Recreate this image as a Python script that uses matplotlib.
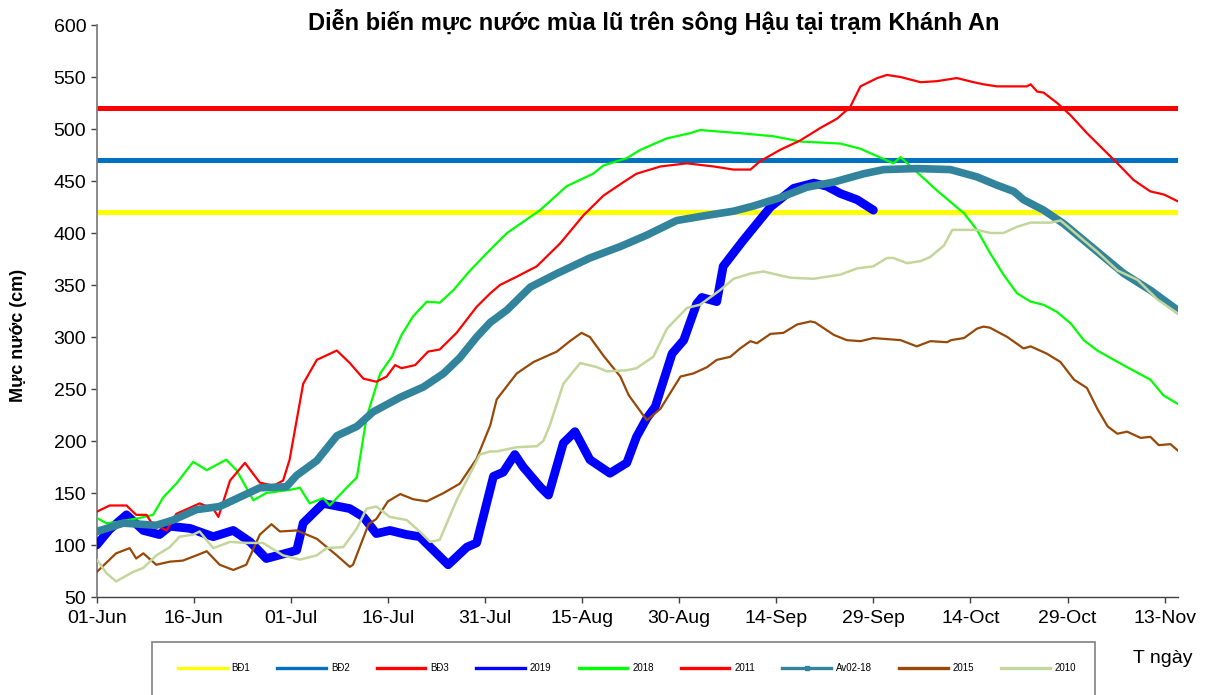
import matplotlib
matplotlib.use("Agg")
import matplotlib.pyplot as plt
from matplotlib.lines import Line2D
from matplotlib.patches import Rectangle

plt.rcParams['font.family'] = ['Liberation Sans', 'DejaVu Sans']

# ---------------- data ----------------
tick_days = [0, 15, 30, 45, 60, 75, 90, 105, 120, 135, 150, 165]
tick_labels = ["01-Jun", "16-Jun", "01-Jul", "16-Jul", "31-Jul", "15-Aug",
               "30-Aug", "14-Sep", "29-Sep", "14-Oct", "29-Oct", "13-Nov"]

bd_names = ["BĐ1", "BĐ2", "BĐ3"]
bd_levels = [420, 470, 520]

d2019 = [0, 2, 4.6, 7.2, 9.7, 11.3, 14.4, 18, 21.1, 23.7, 26.2, 29.8, 30.9, 31.9, 35,
         39.1, 41.2, 43.2, 45.3, 47.9, 49.9, 54.3, 57.2, 58.7, 61.3, 62.8, 64.6, 65.9,
         68.5, 69.8, 72.1, 73.9, 76.2, 79.3, 81.9, 83.4, 85, 86.3, 88.9, 90.7, 92.7,
         93.5, 95.8, 96.8, 99.9, 104.1, 107.7, 110.8, 112.8, 114.9, 117.5, 120]
v2019 = [100, 115, 129, 114, 110, 118, 116, 108, 114, 103, 87, 93, 95, 121, 140,
         135, 127, 111, 114, 110, 108, 81, 98, 102, 166, 170, 187, 175,
         156, 148, 198, 209, 182, 169, 179, 204, 222, 233, 284, 297, 332,
         338, 334, 368, 393, 425, 443, 448, 445, 438, 432, 422]

d2018 = [0, 1.5, 3, 6.6, 8.7, 10.3, 12.3, 14.9, 17, 20, 21.6, 24.2, 26.2, 29.8, 31.4,
         32.9, 35, 36, 38.6, 40.2, 41.7, 43.8, 45.6, 47.1, 48.9, 51, 53, 55.1, 57.7,
         60.8, 63.4, 68.5, 72.6, 76.7, 78.3, 81.9, 84, 88.1, 91.7, 93.2, 99.4, 104.6,
         108.7, 114.9, 118, 123.1, 124.2, 129.8, 134, 136, 138.1, 140.1, 142.2, 144.3,
         146.3, 148.4, 150.5, 152.5, 154.6, 156.6, 159.2, 162.8, 164.8, 167.2]
v2018 = [126, 121, 122, 126, 129, 146, 159, 180, 172, 182, 172, 143, 150, 153, 155,
         140, 145, 138, 155, 165, 223, 265, 281, 302, 320, 334, 333, 345, 364,
         384, 400, 422, 445, 457, 465, 472, 480, 491, 496, 499, 496, 493,
         488, 486, 481, 467, 473, 441, 419, 403, 380, 360, 342, 334,
         331, 324, 313, 297, 287, 280, 271, 259, 244, 235]

d2011 = [0, 2, 4.6, 6.1, 7.7, 8.5, 10.8, 12.3, 15.9, 18, 18.8, 20.6, 22.9, 25.2, 27.3,
         28.8, 29.8, 31.9, 34, 37.1, 39.1, 41.2, 43.2, 44.8, 46.1, 47.1, 49.2, 51.2,
         53, 55.6, 58.7, 60.8, 62.3, 64.9, 68, 71.6, 75.2, 78.3, 81.4, 83.4, 87.1,
         91.2, 95.3, 98.4, 101, 102.5, 105.6, 108.7, 111.8, 114.4, 116.4, 118, 120.6,
         122.1, 124.2, 127.3, 129.8, 132.9, 135.5, 137, 139.1, 142.2, 143.7, 144.3,
         145.3, 146.3, 148.4, 150.5, 153, 155.6, 157.7, 160.2, 162.8, 164.9, 167.2]
v2011 = [132, 138, 138, 129, 129, 121, 114, 130, 140, 135, 127, 162, 179, 160, 157,
         162, 182, 255, 278, 287, 275, 260, 257, 262, 273, 270, 273, 286,
         288, 304, 329, 342, 350, 358, 368, 390, 417, 436, 449, 457, 464,
         467, 464, 461, 461, 469, 480, 489, 501, 510, 521, 541, 549,
         552, 550, 545, 546, 549, 545, 543, 541, 541, 541, 543,
         536, 535, 525, 513, 496, 480, 467, 451, 440, 437, 430]

dav = [0, 4.1, 9.2, 11.8, 15.4, 19, 22.1, 25.2, 29.3, 30.9, 34, 37.1, 40.2, 42.7,
       46.9, 50.5, 53.6, 56.1, 58.7, 60.8, 63.4, 67, 71.1, 76.2, 80.9, 85, 89.6, 94.3,
       98.4, 101.5, 105.6, 109.7, 113.9, 118.5, 121.6, 126.7, 131.9, 136, 139.1,
       141.7, 143.2, 146.3, 149.4, 152.5, 155.6, 158.7, 162.8, 167.4]
vav = [113, 121, 119, 124, 134, 137, 146, 155, 156, 167, 181, 205, 214, 228,
       242, 252, 265, 280, 300, 314, 326, 348, 361, 376, 387, 398, 412, 417,
       421, 426, 434, 444, 449, 457, 461, 462, 461, 454, 446,
       440, 432, 422, 409, 393, 377, 361, 345, 324]

d2015 = [0, 3, 5.1, 6.1, 7.2, 9.2, 11.3, 13.3, 15.4, 17, 19, 21.1, 23.1, 25.2, 27,
         28.3, 30.9, 34, 37.1, 39.1, 39.6, 42, 43.2, 45, 46.9, 48.9, 51, 53.6, 56.1,
         58.7, 60.8, 61.8, 64.9, 67.5, 71.1, 73.1, 74.9, 76.2, 78.3, 80.9, 82.2, 85,
         87.1, 90.2, 92.2, 94.3, 95.8, 97.9, 99.4, 101, 102, 104.1, 106.1, 108.2,
         110.3, 111, 113.9, 115.9, 118, 120, 124.2, 126.7, 128.8, 131.4, 132, 134,
         136, 137, 138, 140.7, 143.2, 144.3, 146.8, 148.9, 151, 153, 154.6, 156.2,
         157.7, 159.2, 161.3, 162.8, 164.1, 165.9, 167.2]
v2015 = [74, 92, 97, 87, 92, 81, 84, 85, 90, 94, 81, 76, 81, 110, 120,
         113, 114, 106, 90, 79, 81, 120, 125, 142, 149, 144, 142, 150, 159,
         183, 215, 240, 265, 276, 286, 296, 304, 300, 282, 262, 244, 220,
         231, 262, 265, 271, 278, 281, 289, 296, 294, 303, 304, 312,
         315, 314, 302, 297, 296, 299, 297, 291, 296, 295, 297, 299,
         308, 310, 309, 300, 289, 291, 284, 276, 259, 251, 231, 214,
         207, 209, 203, 204, 196, 197, 190]

d2010 = [0, 1.5, 3, 5.6, 7.2, 9.2, 11.3, 12.8, 14.9, 15.9, 18, 20.6, 23.1, 25.7, 28.8,
         31.4, 34, 35.5, 38.1, 40.2, 41.7, 43.2, 45.3, 47.9, 49.9, 51.5, 53, 55.6, 59.2,
         60.8, 61.8, 64.9, 68, 69, 70, 72.1, 74.7, 77.3, 78.8, 81.9, 83.4, 86, 88.1,
         91.2, 93.2, 96.3, 98.4, 101, 103, 107.2, 110.8, 114.9, 117.5, 120, 122.1,
         123.1, 125.2, 127.3, 128.8, 130.9, 132.2, 136, 138.1, 140.1, 142.2, 144.3,
         147.4, 148.9, 149.5, 152.5, 154.6, 157.7, 160.8, 163.9, 167.2]
v2010 = [86, 73, 65, 74, 78, 90, 98, 108, 110, 113, 97, 103, 102, 102, 90,
         86, 90, 97, 98, 116, 135, 137, 127, 124, 113, 103, 105, 143, 187,
         190, 190, 194, 195, 200, 215, 255, 275, 271, 267, 268, 270, 281, 308,
         328, 331, 345, 356, 361, 363, 357, 356, 360, 366, 368, 376,
         376, 371, 373, 377, 388, 403, 403, 400, 400, 406, 410,
         410, 412, 409, 393, 382, 364, 355, 336, 322]

# ---------------- figure ----------------
fig = plt.figure(figsize=(12.09, 6.95), dpi=100)
ax = fig.add_axes([0.080, 0.141, 0.894, 0.823])

bd_colors = ['#FFFF00', '#0070C0', '#FF0000']
handles = []
for name, lvl, c in zip(bd_names, bd_levels, bd_colors):
    ax.axhline(lvl, color=c, lw=3.6, zorder=2)
    handles.append(Line2D([], [], color=c, lw=2.4, label=name))

series = [
    ("2019", d2019, v2019, '#0000FF', 6.3, None),
    ("2018", d2018, v2018, '#00FF00', 1.6, None),
    ("2011", d2011, v2011, '#FF0000', 1.6, None),
    ("Av02-18", dav, vav, '#31849B', 5.5, 's'),
    ("2015", d2015, v2015, '#984807', 1.6, None),
    ("2010", d2010, v2010, '#C3D69B', 1.8, None),
]
for i, (name, d, v, c, lw, mk) in enumerate(series):
    ax.plot(d, v, color=c, lw=lw, solid_capstyle='round', solid_joinstyle='round',
            zorder=3 + i)
    handles.append(Line2D([], [], color=c, lw=2.4, marker=mk, markersize=2.5,
                          label=name))

ax.set_xlim(0, 167)
ax.set_ylim(50, 600)
ax.set_yticks(range(50, 601, 50))
ax.set_xticks(tick_days)
ax.set_xticklabels(tick_labels)
ax.tick_params(axis='both', labelsize=14, direction='out', length=4, width=1,
               colors='#404040', labelcolor='black')
ax.tick_params(axis='x', pad=5)
for s in ['top', 'right']:
    ax.spines[s].set_visible(False)
ax.spines['left'].set_color('#808080')
ax.spines['left'].set_linewidth(1.3)
ax.spines['bottom'].set_color('#404040')
ax.spines['bottom'].set_linewidth(1.0)

fig.text(0.541, 0.968, "Diễn biến mực nước mùa lũ trên sông Hậu tại trạm Khánh An",
         ha='center', va='center', fontsize=17, fontweight='bold')
fig.text(0.015, 0.518, "Mực nước (cm)", rotation=90, ha='center', va='center',
         fontsize=13, fontweight='bold')
fig.text(0.937, 0.053, "T ngày", ha='left', va='center', fontsize=14)

# legend box
fig.patches.append(Rectangle((152 / 1209, -0.02), (1095 - 152) / 1209,
                             0.02 + (695 - 642) / 695, transform=fig.transFigure,
                             fill=False, edgecolor='#808080', lw=1.2))
fig.legend(handles=handles, ncol=9, loc='center left',
           bbox_to_anchor=(178 / 1209, 1 - 668 / 695), frameon=False, fontsize=7,
           handlelength=5, handletextpad=0.5, columnspacing=2.8, borderpad=0,
           borderaxespad=0)

fig.savefig("out.png", dpi=100)
